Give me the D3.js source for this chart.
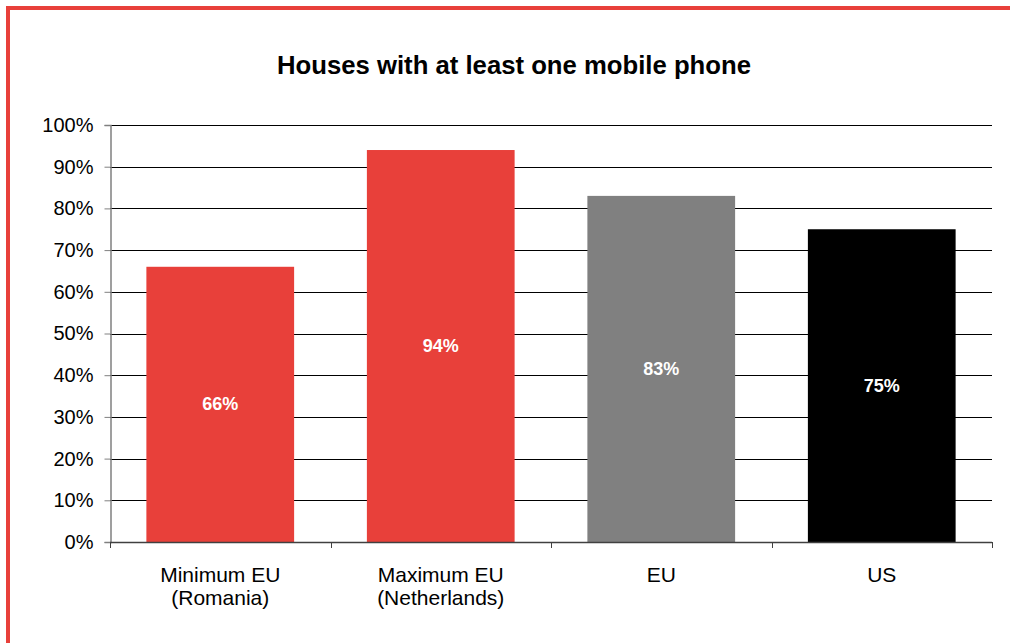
<!DOCTYPE html>
<html lang="en">
<head>
<meta charset="UTF-8">
<title>Houses with at least one mobile phone</title>
<script src="https://d3js.org/d3.v7.min.js"></script>
<style>
  html, body { margin: 0; padding: 0; background: #fff; }
  svg text { font-family: "Liberation Sans", Arial, sans-serif; }
</style>
</head>
<body>
<svg id="chart" width="1010" height="643"></svg>
<script>
// data
const categories = [["Minimum EU", "(Romania)"], ["Maximum EU", "(Netherlands)"], ["EU"], ["US"]];
const values = [0.66, 0.94, 0.83, 0.75];
const barColors = ["#E8403A", "#E8403A", "#808080", "#000000"];
const yTicks = [0, 0.1, 0.2, 0.3, 0.4, 0.5, 0.6, 0.7, 0.8, 0.9, 1.0];

const svg = d3.select("#chart");
const margin = {left: 110, right: 18, top: 125, bottom: 101};
const width = 1010, height = 643;

// red frame, top and left
svg.append("line").attr("x1", 6).attr("x2", 1010).attr("y1", 8).attr("y2", 8)
  .attr("stroke", "#E8403A").attr("stroke-width", 4);
svg.append("line").attr("x1", 8).attr("x2", 8).attr("y1", 6).attr("y2", 643)
  .attr("stroke", "#E8403A").attr("stroke-width", 4);

svg.append("text")
  .attr("x", 514).attr("y", 73.5)
  .attr("text-anchor", "middle")
  .style("font-size", "25.7px").style("font-weight", "bold")
  .text("Houses with at least one mobile phone");

const x = d3.scaleBand()
  .domain(d3.range(categories.length))
  .range([margin.left, width - margin.right])
  .paddingInner(0.33).paddingOuter(0.165);

const y = d3.scaleLinear().domain([0, 1]).range([height - margin.bottom, margin.top]);

// gridlines
svg.append("g")
  .selectAll("line")
  .data(yTicks.slice(1))
  .join("line")
    .attr("x1", margin.left).attr("x2", width - margin.right)
    .attr("y1", d => Math.round(y(d)) + 0.5).attr("y2", d => Math.round(y(d)) + 0.5)
    .attr("stroke", "#000").attr("stroke-width", 1);

// bars
svg.append("g")
  .selectAll("rect")
  .data(values)
  .join("rect")
    .attr("x", (d, i) => x(i))
    .attr("width", x.bandwidth())
    .attr("y", d => y(d))
    .attr("height", d => y(0) - y(d))
    .attr("fill", (d, i) => barColors[i]);

// value labels
svg.append("g")
  .selectAll("text")
  .data(values)
  .join("text")
    .attr("x", (d, i) => x(i) + x.bandwidth() / 2)
    .attr("y", d => (y(d) + y(0)) / 2 + 6)
    .attr("text-anchor", "middle")
    .attr("fill", "#fff")
    .style("font-size", "18px").style("font-weight", "bold")
    .text(d => d3.format(".0%")(d));

// y axis
const yAxis = svg.append("g")
  .attr("transform", `translate(${margin.left + 0.5},0)`)
  .call(d3.axisLeft(y).tickValues(yTicks).tickFormat(d3.format(".0%")).tickSize(6).tickPadding(11));
yAxis.select(".domain").attr("stroke", "#808080").attr("stroke-width", 1.5);
yAxis.selectAll(".tick line").attr("stroke", "#808080");
yAxis.selectAll(".tick text").style("font-size", "20px").attr("fill", "#000")
  .style("font-family", "'Liberation Sans', Arial, sans-serif");

// x axis line + boundary ticks
const bounds = d3.range(categories.length + 1).map(i => margin.left + i * (width - margin.left - margin.right) / categories.length);
svg.append("line")
  .attr("x1", margin.left).attr("x2", width - margin.right)
  .attr("y1", Math.round(y(0)) + 0.5).attr("y2", Math.round(y(0)) + 0.5)
  .attr("stroke", "#404040").attr("stroke-width", 1.5);
svg.append("g")
  .selectAll("line")
  .data(bounds)
  .join("line")
    .attr("x1", d => Math.round(d) + 0.5).attr("x2", d => Math.round(d) + 0.5)
    .attr("y1", y(0)).attr("y2", y(0) + 6)
    .attr("stroke", "#404040");

// category labels
const cat = svg.append("g")
  .selectAll("text")
  .data(categories)
  .join("text")
    .attr("x", (d, i) => x(i) + x.bandwidth() / 2)
    .attr("y", 582)
    .attr("text-anchor", "middle")
    .style("font-size", "21px");
cat.selectAll("tspan")
  .data(d => d)
  .join("tspan")
    .attr("x", function() { return d3.select(this.parentNode).attr("x"); })
    .attr("dy", (d, i) => i === 0 ? 0 : 22.5)
    .text(d => d);
</script>
</body>
</html>
